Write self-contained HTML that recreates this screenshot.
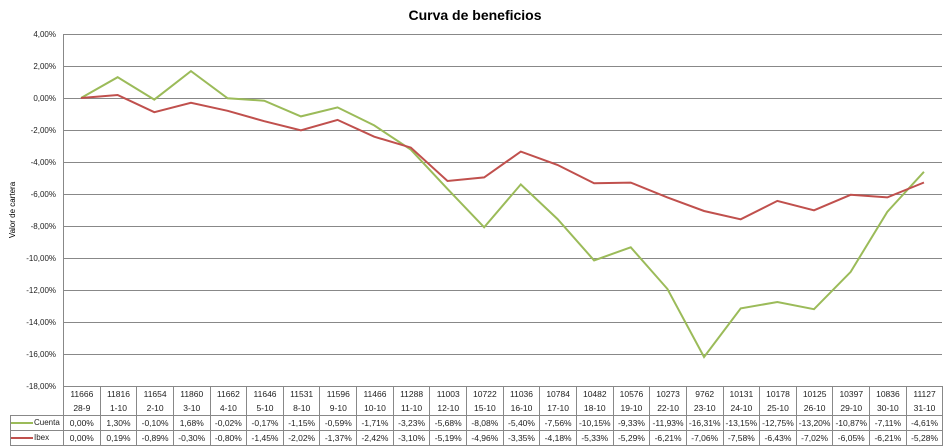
<!DOCTYPE html>
<html><head><meta charset="utf-8"><style>
body{margin:0;background:#fff;width:949px;height:445px;overflow:hidden;font-family:"Liberation Sans",sans-serif;position:relative}
svg{position:absolute;left:0;top:0}
table{position:absolute;left:10px;top:386px;border-collapse:collapse;table-layout:fixed;width:932px;font-size:8.5px;color:#222}
td{border:1px solid #888;text-align:center;padding:0;height:14px;white-space:nowrap;overflow:hidden}
td.h{height:12.5px;border-top:none;border-bottom:none}
tr.r1 td.h{border-top:1px solid #888}
tr.r2 td.h{border-bottom:1px solid #888}
td.e{border:none;border-right:1px solid #888}
td.l{text-align:left;font-size:8px}
.sw{display:inline-block;width:22px;height:2px;vertical-align:middle;margin-right:1px}
</style></head><body>
<svg width="949" height="445">
<text x="475" y="20" text-anchor="middle" font-size="14" font-weight="bold" fill="#000">Curva de beneficios</text>
<text transform="translate(15,210) rotate(-90)" text-anchor="middle" font-size="8" fill="#000">Valor de cartera</text>
<g stroke="#888" stroke-width="1">
<line x1="63" y1="34.5" x2="942" y2="34.5"/><line x1="63" y1="66.5" x2="942" y2="66.5"/><line x1="63" y1="98.5" x2="942" y2="98.5"/><line x1="63" y1="130.5" x2="942" y2="130.5"/><line x1="63" y1="162.5" x2="942" y2="162.5"/><line x1="63" y1="194.5" x2="942" y2="194.5"/><line x1="63" y1="226.5" x2="942" y2="226.5"/><line x1="63" y1="258.5" x2="942" y2="258.5"/><line x1="63" y1="290.5" x2="942" y2="290.5"/><line x1="63" y1="322.5" x2="942" y2="322.5"/><line x1="63" y1="354.5" x2="942" y2="354.5"/>
<line x1="63.5" y1="34" x2="63.5" y2="386"/>
</g>
<g font-size="8" fill="#222" text-anchor="end">
<text x="56" y="37">4,00%</text><text x="56" y="69">2,00%</text><text x="56" y="101">0,00%</text><text x="56" y="133">-2,00%</text><text x="56" y="165">-4,00%</text><text x="56" y="197">-6,00%</text><text x="56" y="229">-8,00%</text><text x="56" y="261">-10,00%</text><text x="56" y="293">-12,00%</text><text x="56" y="325">-14,00%</text><text x="56" y="357">-16,00%</text><text x="56" y="389">-18,00%</text>
</g>
<polyline fill="none" stroke="#9bbb59" stroke-width="2" points="81,98 117.65,77.2 154.3,99.6 190.95,71.1 227.6,98.3 264.25,100.7 300.9,116.4 337.55,107.4 374.2,125.4 410.85,149.7 447.5,188.9 484.15,227.3 520.8,184.4 557.45,219 594.1,260.4 630.75,247.3 667.4,288.9 704.05,357 740.7,308.4 777.35,302 814,309.2 850.65,271.9 887.3,211.8 923.95,171.8"/>
<polyline fill="none" stroke="#c0504d" stroke-width="2" points="81,98 117.65,95 154.3,112.2 190.95,102.8 227.6,110.8 264.25,121.2 300.9,130.3 337.55,119.9 374.2,136.7 410.85,147.6 447.5,181 484.15,177.4 520.8,151.6 557.45,164.9 594.1,183.3 630.75,182.6 667.4,197.4 704.05,211 740.7,219.3 777.35,200.9 814,210.3 850.65,194.8 887.3,197.4 923.95,182.5"/>
</svg>
<table>
<colgroup><col style="width:53px"><col span="24" style="width:36.65px"></colgroup>
<tr class="r1"><td class="e"></td><td class="h">11666</td><td class="h">11816</td><td class="h">11654</td><td class="h">11860</td><td class="h">11662</td><td class="h">11646</td><td class="h">11531</td><td class="h">11596</td><td class="h">11466</td><td class="h">11288</td><td class="h">11003</td><td class="h">10722</td><td class="h">11036</td><td class="h">10784</td><td class="h">10482</td><td class="h">10576</td><td class="h">10273</td><td class="h">9762</td><td class="h">10131</td><td class="h">10178</td><td class="h">10125</td><td class="h">10397</td><td class="h">10836</td><td class="h">11127</td></tr>
<tr class="r2"><td class="e"></td><td class="h">28-9</td><td class="h">1-10</td><td class="h">2-10</td><td class="h">3-10</td><td class="h">4-10</td><td class="h">5-10</td><td class="h">8-10</td><td class="h">9-10</td><td class="h">10-10</td><td class="h">11-10</td><td class="h">12-10</td><td class="h">15-10</td><td class="h">16-10</td><td class="h">17-10</td><td class="h">18-10</td><td class="h">19-10</td><td class="h">22-10</td><td class="h">23-10</td><td class="h">24-10</td><td class="h">25-10</td><td class="h">26-10</td><td class="h">29-10</td><td class="h">30-10</td><td class="h">31-10</td></tr>
<tr><td class="l"><span class="sw" style="background:#9bbb59"></span>Cuenta</td><td>0,00%</td><td>1,30%</td><td>-0,10%</td><td>1,68%</td><td>-0,02%</td><td>-0,17%</td><td>-1,15%</td><td>-0,59%</td><td>-1,71%</td><td>-3,23%</td><td>-5,68%</td><td>-8,08%</td><td>-5,40%</td><td>-7,56%</td><td>-10,15%</td><td>-9,33%</td><td>-11,93%</td><td>-16,31%</td><td>-13,15%</td><td>-12,75%</td><td>-13,20%</td><td>-10,87%</td><td>-7,11%</td><td>-4,61%</td></tr>
<tr><td class="l"><span class="sw" style="background:#c0504d"></span>Ibex</td><td>0,00%</td><td>0,19%</td><td>-0,89%</td><td>-0,30%</td><td>-0,80%</td><td>-1,45%</td><td>-2,02%</td><td>-1,37%</td><td>-2,42%</td><td>-3,10%</td><td>-5,19%</td><td>-4,96%</td><td>-3,35%</td><td>-4,18%</td><td>-5,33%</td><td>-5,29%</td><td>-6,21%</td><td>-7,06%</td><td>-7,58%</td><td>-6,43%</td><td>-7,02%</td><td>-6,05%</td><td>-6,21%</td><td>-5,28%</td></tr>
</table>
</body></html>
